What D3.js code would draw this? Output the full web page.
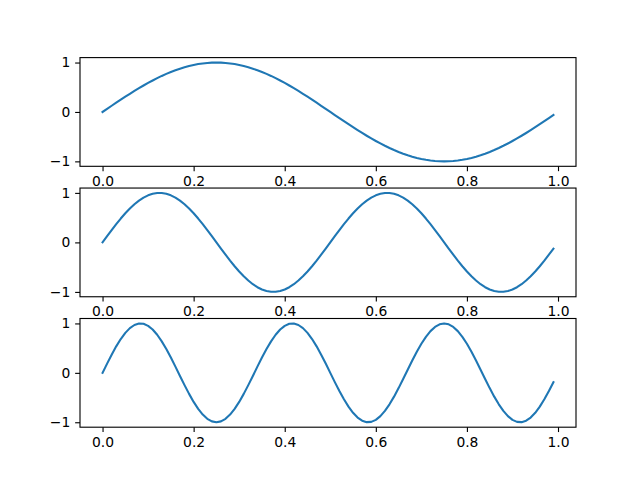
<!DOCTYPE html>
<html>
<head>
<meta charset="utf-8">
<script src="https://cdn.jsdelivr.net/npm/d3@7"></script>
<style>
html,body{margin:0;padding:0;background:#fff;}
svg{display:block;}
text{font-family:"DejaVu Sans",sans-serif;}
</style>
</head>
<body>
<svg id="chart" width="640" height="480"></svg>
<script>
const xValues = [0,0.01,0.02,0.03,0.04,0.05,0.06,0.07,0.08,0.09,0.1,0.11,0.12,0.13,0.14,0.15,0.16,0.17,0.18,0.19,0.2,0.21,0.22,0.23,0.24,0.25,0.26,0.27,0.28,0.29,0.3,0.31,0.32,0.33,0.34,0.35,0.36,0.37,0.38,0.39,0.4,0.41,0.42,0.43,0.44,0.45,0.46,0.47,0.48,0.49,0.5,0.51,0.52,0.53,0.54,0.55,0.56,0.57,0.58,0.59,0.6,0.61,0.62,0.63,0.64,0.65,0.66,0.67,0.68,0.69,0.7,0.71,0.72,0.73,0.74,0.75,0.76,0.77,0.78,0.79,0.8,0.81,0.82,0.83,0.84,0.85,0.86,0.87,0.88,0.89,0.9,0.91,0.92,0.93,0.94,0.95,0.96,0.97,0.98,0.99];

const series1 = [0,0.0628,0.1253,0.1874,0.2487,0.309,0.3681,0.4258,0.4818,0.5358,0.5878,0.6374,0.6845,0.729,0.7705,0.809,0.8443,0.8763,0.9048,0.9298,0.9511,0.9686,0.9823,0.9921,0.998,1,0.998,0.9921,0.9823,0.9686,0.9511,0.9298,0.9048,0.8763,0.8443,0.809,0.7705,0.729,0.6845,0.6374,0.5878,0.5358,0.4818,0.4258,0.3681,0.309,0.2487,0.1874,0.1253,0.0628,0,-0.0628,-0.1253,-0.1874,-0.2487,-0.309,-0.3681,-0.4258,-0.4818,-0.5358,-0.5878,-0.6374,-0.6845,-0.729,-0.7705,-0.809,-0.8443,-0.8763,-0.9048,-0.9298,-0.9511,-0.9686,-0.9823,-0.9921,-0.998,-1,-0.998,-0.9921,-0.9823,-0.9686,-0.9511,-0.9298,-0.9048,-0.8763,-0.8443,-0.809,-0.7705,-0.729,-0.6845,-0.6374,-0.5878,-0.5358,-0.4818,-0.4258,-0.3681,-0.309,-0.2487,-0.1874,-0.1253,-0.0628];

const series2 = [0,0.1253,0.2487,0.3681,0.4818,0.5878,0.6845,0.7705,0.8443,0.9048,0.9511,0.9823,0.998,0.998,0.9823,0.9511,0.9048,0.8443,0.7705,0.6845,0.5878,0.4818,0.3681,0.2487,0.1253,0,-0.1253,-0.2487,-0.3681,-0.4818,-0.5878,-0.6845,-0.7705,-0.8443,-0.9048,-0.9511,-0.9823,-0.998,-0.998,-0.9823,-0.9511,-0.9048,-0.8443,-0.7705,-0.6845,-0.5878,-0.4818,-0.3681,-0.2487,-0.1253,
0,0.1253,0.2487,0.3681,0.4818,0.5878,0.6845,0.7705,0.8443,0.9048,0.9511,0.9823,0.998,0.998,0.9823,0.9511,0.9048,0.8443,0.7705,0.6845,0.5878,0.4818,0.3681,0.2487,0.1253,0,-0.1253,-0.2487,-0.3681,-0.4818,-0.5878,-0.6845,-0.7705,-0.8443,-0.9048,-0.9511,-0.9823,-0.998,-0.998,-0.9823,-0.9511,-0.9048,-0.8443,-0.7705,-0.6845,-0.5878,-0.4818,-0.3681,-0.2487,-0.1253];

const series3 = [0,0.1874,0.3681,0.5358,0.6845,0.809,0.9048,0.9686,0.998,0.9921,0.9511,0.8763,0.7705,0.6374,0.4818,0.309,0.1253,-0.0628,-0.2487,-0.4258,-0.5878,-0.729,-0.8443,-0.9298,-0.9823,-1,-0.9823,-0.9298,-0.8443,-0.729,-0.5878,-0.4258,-0.2487,-0.0628,0.1253,0.309,0.4818,0.6374,0.7705,0.8763,0.9511,0.9921,0.998,0.9686,0.9048,0.809,0.6845,0.5358,0.3681,0.1874,0,-0.1874,-0.3681,-0.5358,-0.6845,-0.809,-0.9048,-0.9686,-0.998,-0.9921,-0.9511,-0.8763,-0.7705,-0.6374,-0.4818,-0.309,-0.1253,0.0628,0.2487,0.4258,0.5878,0.729,0.8443,0.9298,0.9823,1,0.9823,0.9298,0.8443,0.729,0.5878,0.4258,0.2487,0.0628,-0.1253,-0.309,-0.4818,-0.6374,-0.7705,-0.8763,-0.9511,-0.9921,-0.998,-0.9686,-0.9048,-0.809,-0.6845,-0.5358,-0.3681,-0.1874];

const xTicks = [0, 0.2, 0.4, 0.6, 0.8, 1.0];
const yTicks = [-1, 0, 1];
const allSeries = [series1, series2, series3];

const W = 640, H = 480;
const plotLeft = 0.125 * W, plotRight = 0.9 * W;
const plotTop = (1 - 0.88) * H, plotBottom = (1 - 0.11) * H;
const nRows = 3, hspace = 0.2;
const cellH = (plotBottom - plotTop) / (nRows + hspace * (nRows - 1));
const gap = cellH * hspace;
const fontPx = 10 * 100 / 72;
const tickLen = 3.5 * 100 / 72;
const tickPad = 3.5 * 100 / 72;
const color = "#1f77b4";

const svg = d3.select("#chart");
svg.append("rect").attr("width", W).attr("height", H).attr("fill", "#fff");

function padDomain(ext) {
  const r = ext[1] - ext[0];
  return [ext[0] - 0.05 * r, ext[1] + 0.05 * r];
}

allSeries.forEach((ys, i) => {
  const y0 = plotTop + i * (cellH + gap);
  const x = d3.scaleLinear().domain(padDomain(d3.extent(xValues))).range([plotLeft, plotRight]);
  const y = d3.scaleLinear().domain(padDomain(d3.extent(ys))).range([y0 + cellH, y0]);
  const g = svg.append("g");

  const line = d3.line().x((d, j) => x(xValues[j])).y(d => y(d));
  g.append("path").datum(ys)
    .attr("d", line)
    .attr("fill", "none")
    .attr("stroke", color)
    .attr("stroke-width", 1.5 * 100 / 72)
    .attr("stroke-linejoin", "round")
    .attr("stroke-linecap", "square");

  const xa = g.append("g").attr("transform", `translate(0,${y0 + cellH})`)
    .call(d3.axisBottom(x).tickValues(xTicks).tickFormat(d3.format(".1f"))
      .tickSize(tickLen).tickPadding(tickPad).tickSizeOuter(0));
  const ya = g.append("g").attr("transform", `translate(${plotLeft},0)`)
    .call(d3.axisLeft(y).tickValues(yTicks).tickFormat(d3.format("d"))
      .tickSize(tickLen).tickPadding(tickPad).tickSizeOuter(0));
  [xa, ya].forEach(a => {
    a.select(".domain").remove();
    a.selectAll("line").attr("stroke", "#000").attr("stroke-width", 0.8 * 100 / 72);
    a.selectAll("text").attr("fill", "#000").style("font-size", fontPx + "px")
      .style("font-family", "'DejaVu Sans', sans-serif");
  });

  g.append("rect")
    .attr("x", plotLeft).attr("y", y0)
    .attr("width", plotRight - plotLeft).attr("height", cellH)
    .attr("fill", "none").attr("stroke", "#000")
    .attr("stroke-width", 0.8 * 100 / 72);
});
</script>
</body>
</html>
